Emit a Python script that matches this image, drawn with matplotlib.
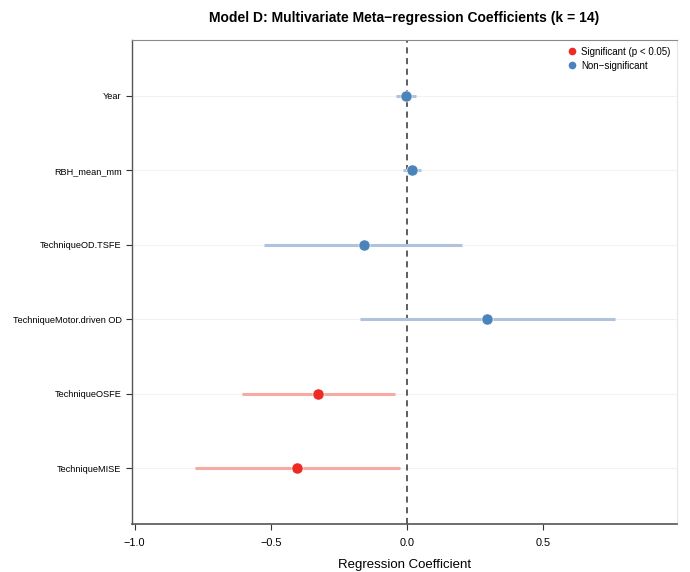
import matplotlib
matplotlib.use("Agg")
import matplotlib.pyplot as plt
from matplotlib.lines import Line2D
import numpy as np

plt.rcParams['font.family'] = ['Liberation Sans', 'DejaVu Sans']

# coefficients, bottom to top
terms = ["TechniqueMISE", "TechniqueOSFE", "TechniqueMotor.driven OD",
         "TechniqueOD.TSFE", "RBH_mean_mm", "Year"]
estimate = [-0.405, -0.327, 0.293, -0.160, 0.017, -0.006]
ci_lower = [-0.780, -0.608, -0.174, -0.525, -0.017, -0.043]
ci_upper = [-0.028, -0.045, 0.762, 0.200, 0.052, 0.033]
significant = [True, True, False, False, False, False]

red = "#ee2a24"
blue = "#4a84ba"
red_ci = "#f6aaa2"
blue_ci = "#b0c2dc"

fig = plt.figure(figsize=(6.9, 5.72), dpi=100)
ax = fig.add_axes([132/690, 1 - 524/572, (677-132)/690, (524-40)/572])

ypos = np.arange(1, len(terms) + 1)

for y in ypos:
    ax.axhline(y, color="#f2f2f2", lw=0.8, zorder=0)

ax.axvline(0, color="#333333", lw=1.1, ls=(0, (4, 3)), zorder=1)

for i, y in enumerate(ypos):
    ci_col = red_ci if significant[i] else blue_ci
    pt_col = red if significant[i] else blue
    ax.plot([ci_lower[i], ci_upper[i]], [y, y], color=ci_col, lw=2.2, solid_capstyle="butt", zorder=2)
    ax.plot(estimate[i], y, "o", color=pt_col, ms=8, mec="white", mew=0.4, zorder=3)

ax.set_xlim(-1.01, 0.99)
ax.set_ylim(0.25, 6.75)
ax.set_yticks(ypos)
ax.set_yticklabels(terms, fontsize=6.6)
ax.set_xticks([-1.0, -0.5, 0.0, 0.5])
ax.set_xticklabels(["\u22121.0", "\u22120.5", "0.0", "0.5"], fontsize=7.8)
ax.tick_params(axis="both", direction="out", length=4, width=0.8, color="#333333")
ax.tick_params(axis="x", pad=6)

ax.spines["left"].set_color("#555555")
ax.spines["bottom"].set_color("#555555")
ax.spines["left"].set_linewidth(1.0)
ax.spines["bottom"].set_linewidth(1.2)
ax.spines["top"].set_color("#8a8a8a")
ax.spines["right"].set_color("#e6e6e6")

ax.set_xlabel("Regression Coefficient", fontsize=9.5, labelpad=8)
fig.text(0.5 * (132 + 677) / 690, 1 - 18/572,
         "Model D: Multivariate Meta\u2212regression Coefficients (k = 14)",
         ha="center", va="center", fontsize=10, fontweight="bold")

handles = [Line2D([], [], ls="", marker="o", color=red, ms=4.5),
           Line2D([], [], ls="", marker="o", color=blue, ms=4.5)]
ax.legend(handles, ["Significant (p < 0.05)", "Non\u2212significant"],
          loc="upper right", frameon=False, fontsize=7, handletextpad=0.3,
          borderaxespad=0.3, labelspacing=0.4, handlelength=1.2)

fig.savefig("out.png", dpi=100)
